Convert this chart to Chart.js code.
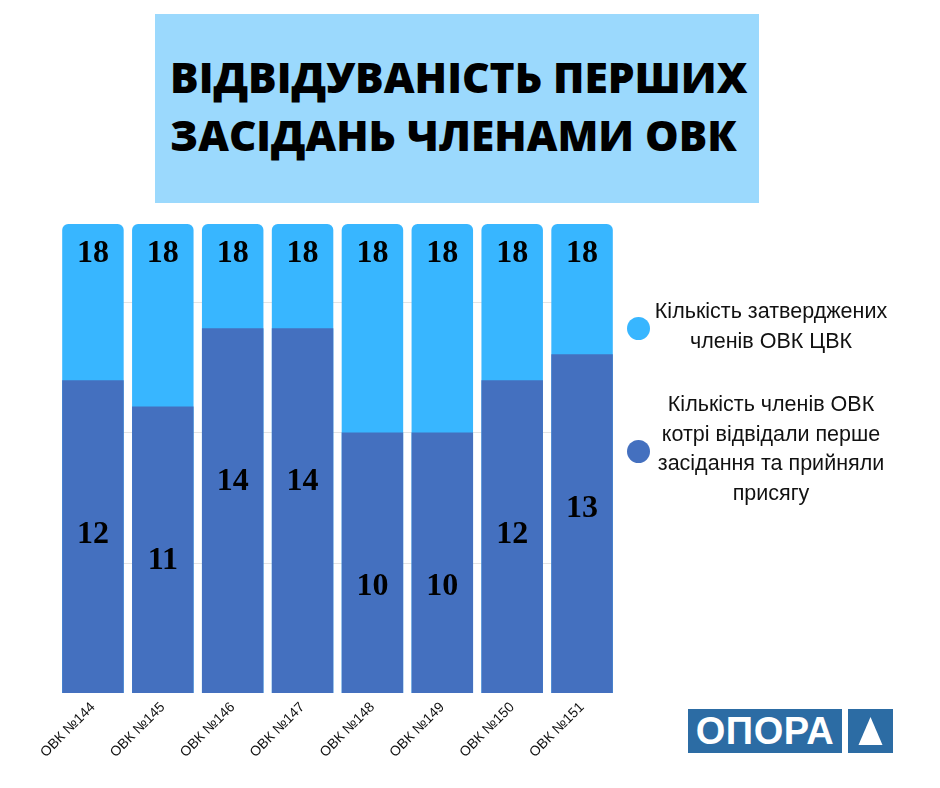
<!DOCTYPE html>
<html>
<head>
<meta charset="utf-8">
<script src="https://cdn.jsdelivr.net/npm/chart.js@4"></script>
<style>
  html, body { margin: 0; padding: 0; background: #fff; }
  #wrap { position: relative; width: 940px; height: 788px; background: #fff; overflow: hidden; }
  #titleBox { position: absolute; left: 155px; top: 14px; width: 604px; height: 189px; background: #9bd9fd; }
  .tline { position: absolute; left: 15px; font-family: "Open Sans", "Noto Sans", sans-serif; font-weight: 800; font-size: 42px; color: #000; white-space: nowrap; line-height: 1; transform-origin: 0 50%; }
  #chartBox { position: absolute; left: 0; top: 200px; width: 630px; height: 588px; }
  .legDot { position: absolute; width: 23px; height: 23px; border-radius: 50%; }
  .legText { position: absolute; width: 280px; text-align: center; font-family: "Liberation Sans", Arial, sans-serif; font-size: 21.5px; line-height: 29.5px; color: #111; }
  #logo1 { position: absolute; left: 688px; top: 709px; width: 154px; height: 44px; background: #2c6ca4; color: #fff; font-family: "Liberation Sans", Arial, sans-serif; font-weight: 700; font-size: 38px; line-height: 44px; text-align: center; letter-spacing: 0.5px; }
  #logo2 { position: absolute; left: 848px; top: 709px; width: 45px; height: 44px; background: #2c6ca4; }
</style>
</head>
<body>
<div id="wrap">
  <div id="titleBox">
    <div class="tline" id="t1" style="top:42px">ВІДВІДУВАНІСТЬ ПЕРШИХ</div>
    <div class="tline" id="t2" style="top:100px">ЗАСІДАНЬ ЧЛЕНАМИ ОВК</div>
  </div>
  <div id="chartBox"><canvas id="c" width="630" height="588"></canvas></div>
  <div id="legend"></div>
  <div id="logo1">ОПОРА</div>
  <div id="logo2"><svg width="45" height="44"><polygon points="22.5,8 34.5,36 10.5,36" fill="#fff"/></svg></div>
</div>
<script>
// ---- data ----
const categories = ["ОВК №144", "ОВК №145", "ОВК №146", "ОВК №147", "ОВК №148", "ОВК №149", "ОВК №150", "ОВК №151"];
const approvedMembers = [18, 18, 18, 18, 18, 18, 18, 18];
const attendedMembers = [12, 11, 14, 14, 10, 10, 12, 13];
const approvedLabelLines = ["Кількість затверджених", "членів ОВК ЦВК"];
const attendedLabelLines = ["Кількість членів ОВК", "котрі відвідали перше", "засідання та прийняли", "присягу"];
const gridTicks = [5, 10, 15];

const lightBlue = "#38b6ff";
const darkBlue = "#4470bf";

const gridPlugin = {
  id: "gapGrid",
  beforeDatasetsDraw(chart) {
    const ctx = chart.ctx;
    const y = chart.scales.y;
    const metas = chart.getDatasetMeta(0).data;
    const x0 = metas[0].x, x1 = metas[metas.length - 1].x;
    ctx.save();
    ctx.strokeStyle = "#e3e3e3";
    ctx.lineWidth = 1;
    gridTicks.forEach(v => {
      const py = Math.round(y.getPixelForValue(v)) + 0.5;
      ctx.beginPath(); ctx.moveTo(x0, py); ctx.lineTo(x1, py); ctx.stroke();
    });
    ctx.restore();
  }
};

const labelPlugin = {
  id: "barLabels",
  afterDatasetsDraw(chart) {
    const ctx = chart.ctx;
    ctx.save();
    ctx.font = "bold 32px 'Liberation Serif', 'DejaVu Serif', serif";
    ctx.fillStyle = "#000";
    ctx.textAlign = "center";
    ctx.textBaseline = "middle";
    chart.data.datasets.forEach((ds, di) => {
      const meta = chart.getDatasetMeta(di);
      meta.data.forEach((bar, i) => {
        const off = ds.labelOffset;
        ctx.fillText(String(ds.data[i]), bar.x, bar.y + off);
      });
    });
    ctx.restore();
  }
};

new Chart(document.getElementById("c"), {
  type: "bar",
  data: {
    labels: categories,
    datasets: [
      {
        label: approvedLabelLines.join(" "),
        data: approvedMembers,
        backgroundColor: lightBlue,
        borderRadius: { topLeft: 6, topRight: 6, bottomLeft: 0, bottomRight: 0 },
        borderSkipped: false,
        grouped: false,
        order: 2,
        labelOffset: 30
      },
      {
        label: attendedLabelLines.join(" "),
        data: attendedMembers,
        backgroundColor: darkBlue,
        borderRadius: 0,
        grouped: false,
        order: 1,
        labelOffset: 154
      }
    ]
  },
  options: {
    responsive: false,
    animation: false,
    devicePixelRatio: 1,
    layout: { padding: { left: 58, right: 13, top: 24, bottom: 25 } },
    datasets: { bar: { barPercentage: 0.88, categoryPercentage: 1 } },
    plugins: { legend: { display: false }, tooltip: { enabled: false } },
    scales: {
      x: {
        grid: { display: false, drawTicks: false },
        border: { display: false },
        ticks: {
          autoSkip: false, minRotation: 45, maxRotation: 45, padding: 6,
          color: "#111",
          font: { family: "'Liberation Sans', Arial, sans-serif", size: 14 }
        },
        afterFit(scale) { scale.height = 70; }
      },
      y: {
        display: false, min: 0, max: 18
      }
    }
  },
  plugins: [gridPlugin, labelPlugin]
});

// ---- HTML legend ----
const legend = document.getElementById("legend");
const items = [
  { color: lightBlue, lines: approvedLabelLines, dotTop: 317, textTop: 297 },
  { color: darkBlue, lines: attendedLabelLines, dotTop: 440, textTop: 390 }
];
items.forEach(it => {
  const d = document.createElement("div");
  d.className = "legDot";
  d.style.left = "627px"; d.style.top = it.dotTop + "px"; d.style.background = it.color;
  legend.appendChild(d);
  const t = document.createElement("div");
  t.className = "legText";
  t.style.left = "631px"; t.style.top = it.textTop + "px";
  t.innerHTML = it.lines.join("<br>");
  legend.appendChild(t);
});

// fit title widths to reference
const fit = (id, w) => { const el = document.getElementById(id); const s = w / el.offsetWidth; el.style.transform = "scaleX(" + s + ")"; };
fit("t1", 578); fit("t2", 567);
</script>
</body>
</html>
